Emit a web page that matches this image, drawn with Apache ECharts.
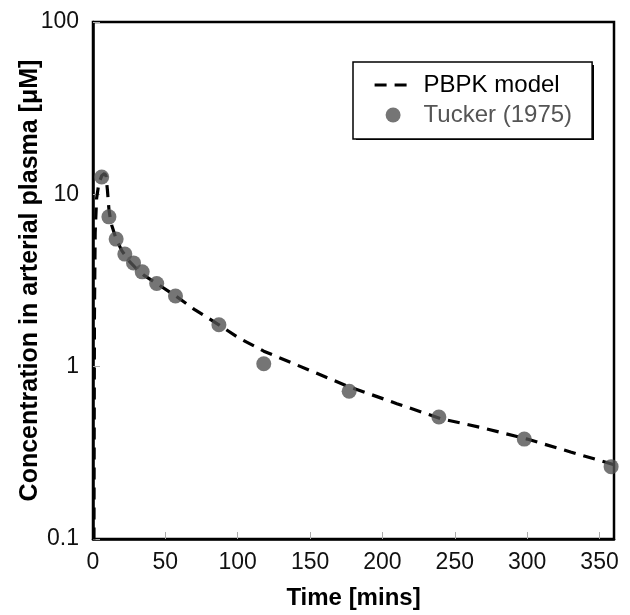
<!DOCTYPE html>
<html>
<head>
<meta charset="utf-8">
<script src="https://cdn.jsdelivr.net/npm/echarts@6/dist/echarts.min.js"></script>
<style>
  html, body { margin: 0; padding: 0; background: #fff; }
  #chart { width: 630px; height: 615px; }
</style>
</head>
<body>
<div id="chart"></div>
<script>
// PBPK model curve (time in mins, concentration in uM)
const timeModel = [0.5, 1, 1.5, 2.5, 4, 6, 8, 9, 10, 11, 12, 13, 16, 20, 25, 30, 35, 45, 57, 70, 87, 100, 118, 150, 176, 210, 240, 270, 300, 330, 360]
const concModel = [0.02, 2, 6, 9.5, 11.5, 12.8, 13.2, 12.8, 10.5, 8.2, 7.2, 6.6, 5.5, 4.7, 4.1, 3.7, 3.4, 3.0, 2.58, 2.15, 1.75, 1.48, 1.23, 0.95, 0.77, 0.61, 0.5, 0.44, 0.38, 0.32, 0.27]

// Tucker (1975) observations
const timeObs = [6, 11, 16, 22, 28, 34, 44, 57, 87, 118, 177, 239, 298, 358]
const concObs = [12.6, 7.4, 5.5, 4.5, 4.0, 3.55, 3.04, 2.57, 1.75, 1.04, 0.72, 0.51, 0.38, 0.263]

const font = 'Liberation Sans, Arial, sans-serif'
const dash = [12, 8]

const chart = echarts.init(document.getElementById('chart'))

const option = {
  backgroundColor: '#fff',
  animation: false,
  grid: {
    left: 93,
    right: 16,
    top: 22,
    bottom: 73,
    show: true,
    borderColor: '#000',
    borderWidth: 2.5,
    backgroundColor: 'transparent'
  },
  // drop shadow behind the legend box
  graphic: [
    {
      type: 'rect',
      left: 356,
      top: 65,
      z: 1,
      shape: { width: 238, height: 75 },
      style: { fill: '#000' }
    }
  ],
  legend: {
    orient: 'vertical',
    left: 353,
    top: 62,
    z: 10,
    padding: [11, 20, 12, 20],
    itemWidth: 37,
    itemHeight: 15,
    itemGap: 6,
    backgroundColor: '#fff',
    borderColor: '#000',
    borderWidth: 1.5,
    textStyle: {
      fontFamily: font,
      fontSize: 24,
      lineHeight: 24,
      padding: [0, 0, 0, 7]
    },
    data: [
      {
        name: 'PBPK model',
        itemStyle: { opacity: 0 },
        lineStyle: { color: '#000', width: 3.2, type: dash },
        textStyle: { color: '#000' }
      },
      { name: 'Tucker (1975)', icon: 'circle', textStyle: { color: '#555' } }
    ]
  },
  xAxis: {
    type: 'value',
    min: 0,
    max: 360,
    interval: 50,
    name: 'Time [mins]',
    nameLocation: 'middle',
    nameGap: 47,
    nameTextStyle: {
      fontFamily: font,
      fontSize: 24,
      fontWeight: 'bold',
      color: '#000'
    },
    axisLine: { show: true, lineStyle: { color: '#000', width: 2.5 } },
    axisTick: { show: true, inside: true, length: 7, lineStyle: { color: '#aaa', width: 1 } },
    axisLabel: {
      fontFamily: font,
      fontSize: 23,
      color: '#111',
      margin: 12,
      showMaxLabel: false
    },
    splitLine: { show: false }
  },
  yAxis: {
    type: 'log',
    logBase: 10,
    min: 0.1,
    max: 100,
    name: 'Concentration in arterial plasma [μM]',
    nameLocation: 'middle',
    nameGap: 50,
    nameMoveOverlap: false,
    nameTextStyle: {
      fontFamily: font,
      fontSize: 25,
      fontWeight: 'bold',
      color: '#000'
    },
    axisLine: { show: true, lineStyle: { color: '#000', width: 2.5 } },
    axisTick: { show: true, inside: true, length: 7, lineStyle: { color: '#aaa', width: 1 } },
    minorTick: { show: false },
    axisLabel: {
      fontFamily: font,
      fontSize: 23,
      color: '#111',
      margin: 14,
      formatter: (v) => (v < 1 ? v.toFixed(1) : String(Math.round(v)))
    },
    splitLine: { show: false }
  },
  series: [
    {
      name: 'PBPK model',
      type: 'line',
      data: timeModel.map((t, i) => [t, concModel[i]]),
      symbol: 'none',
      clip: true,
      z: 2,
      lineStyle: { color: '#000', width: 3.2, type: dash },
      itemStyle: { color: '#000' }
    },
    {
      name: 'Tucker (1975)',
      type: 'scatter',
      data: timeObs.map((t, i) => [t, concObs[i]]),
      symbol: 'circle',
      symbolSize: 15,
      z: 3,
      itemStyle: { color: '#525252' }
    }
  ]
}

chart.setOption(option)
</script>
</body>
</html>
